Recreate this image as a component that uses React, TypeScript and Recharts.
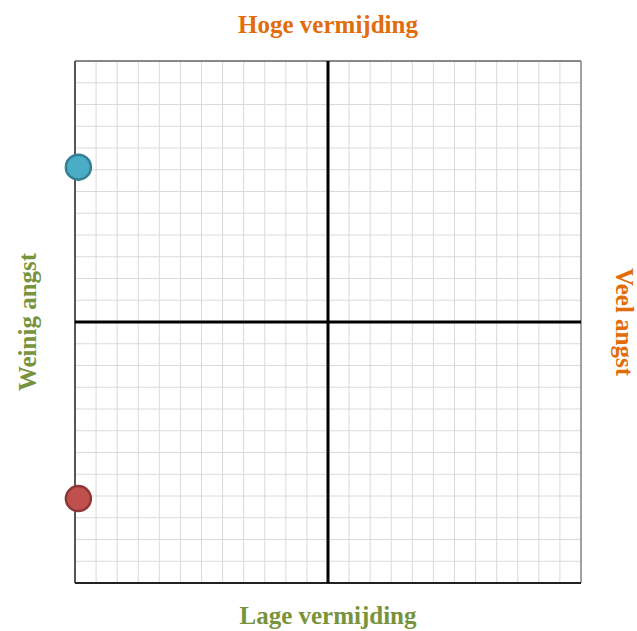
import React from 'react';
import {
  ScatterChart, Scatter, XAxis, YAxis, CartesianGrid, ReferenceLine,
} from 'recharts';

// scale 1..7, midpoint 4, grid every 0.25
const gridTicks = Array.from({ length: 25 }, (_, i) => 1 + i * 0.25);

const bluePoint = [{ x: 1.04, y: 5.78 }];
const redPoint = [{ x: 1.04, y: 1.97 }];

const titleTop = 'Hoge vermijding';
const titleBottom = 'Lage vermijding';
const titleLeft = 'Weinig angst';
const titleRight = 'Veel angst';

const ORANGE = '#E36C0A';
const GREEN = '#77933C';

const dot = (fill: string, stroke: string) => (props: any) => (
  <circle cx={props.cx} cy={props.cy} r={12.5} fill={fill} stroke={stroke} strokeWidth={2.5} />
);

const labelFont = {
  fontFamily: '"Liberation Serif", "Times New Roman", serif',
  fontWeight: 700,
  fontSize: 25,
};

export default function App() {
  return (
    <div style={{ position: 'absolute', left: 0, top: 0, width: 637, height: 631, background: '#fff' }}>
      <ScatterChart
        width={637}
        height={631}
        margin={{ top: 61, right: 56, bottom: 48, left: 75 }}
      >
        <XAxis type="number" dataKey="x" domain={[1, 7]} ticks={gridTicks} interval={0} hide />
        <YAxis type="number" dataKey="y" domain={[1, 7]} ticks={gridTicks} interval={0} hide />
        <CartesianGrid stroke="#dadada" />
        <ReferenceLine y={7} stroke="#666" strokeWidth={1.5} />
        <ReferenceLine x={7} stroke="#888" strokeWidth={1.5} />
        <ReferenceLine x={1} stroke="#555" strokeWidth={2} />
        <ReferenceLine y={1} stroke="#222" strokeWidth={2} />
        <ReferenceLine x={4} stroke="#000" strokeWidth={3} />
        <ReferenceLine y={4} stroke="#000" strokeWidth={3} />
        <Scatter data={bluePoint} isAnimationActive={false} shape={dot('#4BACC6', '#357F94')} />
        <Scatter data={redPoint} isAnimationActive={false} shape={dot('#C0504D', '#8C3836')} />
      </ScatterChart>
      <svg width={637} height={631} style={{ position: 'absolute', left: 0, top: 0, pointerEvents: 'none' }}>
        <text x={328} y={33} textAnchor="middle" fill={ORANGE} style={labelFont}>{titleTop}</text>
        <text x={328} y={624} textAnchor="middle" fill={GREEN} style={labelFont}>{titleBottom}</text>
        <text
          x={27} y={322} textAnchor="middle" dominantBaseline="central"
          transform="rotate(-90 27 322)" fill={GREEN} style={labelFont}
        >{titleLeft}</text>
        <text
          x={624} y={322} textAnchor="middle" dominantBaseline="central"
          transform="rotate(90 624 322)" fill={ORANGE} style={labelFont}
        >{titleRight}</text>
      </svg>
    </div>
  );
}
